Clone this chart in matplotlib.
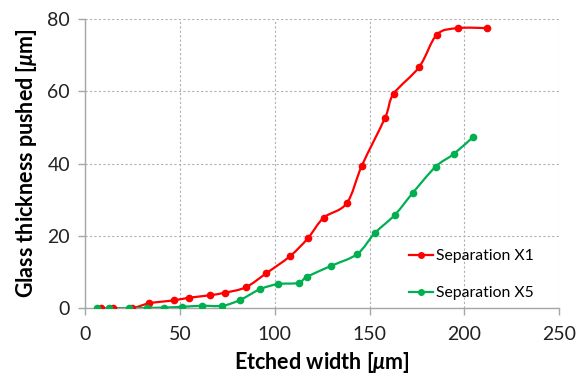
import matplotlib

matplotlib.use("Agg")
import matplotlib.pyplot as plt
from matplotlib.path import Path
from matplotlib.patches import PathPatch
from matplotlib.lines import Line2D
import numpy as np

# 데이터
x1_width = [8.1, 14.8, 24.5, 33.8, 46.8, 54.5, 65.6, 73.5, 84.6, 95.5, 108.0, 117.5,
            125.7, 137.9, 145.9, 158.2, 162.6, 176.2, 185.5, 196.7, 211.9]
x1_push = [0.0, 0.0, 0.0, 1.4, 2.2, 2.9, 3.6, 4.3, 5.8, 9.7, 14.4, 19.4,
           25.0, 29.0, 39.4, 52.7, 59.2, 66.7, 75.6, 77.4, 77.4]

x5_width = [6.3, 12.5, 23.2, 32.4, 41.7, 50.8, 61.5, 72.3, 81.6, 92.3, 101.8, 112.5,
            116.9, 129.6, 143.5, 152.6, 163.3, 172.8, 184.8, 194.3, 204.8]
x5_push = [0.0, 0.0, 0.0, 0.1, 0.2, 0.4, 0.7, 0.7, 2.3, 5.3, 6.7, 7.0,
           8.7, 11.7, 15.0, 20.7, 25.8, 31.9, 39.1, 42.6, 47.4]

series_names = ["Separation X1", "Separation X5"]
series_colors = ["#FF0000", "#00B050"]

FONT = "Lato"
plt.rcParams["font.family"] = [FONT, "DejaVu Sans"]
plt.rcParams["mathtext.fontset"] = "custom"
plt.rcParams["mathtext.it"] = "Lato:italic:bold"
plt.rcParams["mathtext.rm"] = "Lato:bold"


def smooth_path(xs, ys):
    # 엑셀 스타일 부드러운 선 (베지어 곡선)
    pts = np.column_stack([xs, ys])
    n = len(pts)
    verts = [pts[0]]
    codes = [Path.MOVETO]
    for i in range(n - 1):
        p0 = pts[i - 1] if i > 0 else pts[i]
        p1 = pts[i]
        p2 = pts[i + 1]
        p3 = pts[i + 2] if i + 2 < n else pts[i + 1]
        c1 = p1 + (p2 - p0) / 6.0
        c2 = p2 - (p3 - p1) / 6.0
        verts += [c1, c2, p2]
        codes += [Path.CURVE4] * 3
    return Path(verts, codes)


fig = plt.figure(figsize=(5.77, 3.78), dpi=100)
ax = fig.add_axes([0.148, 0.1844, 0.821, 0.7661])

for xs, ys, c in [(x1_width, x1_push, series_colors[0]), (x5_width, x5_push, series_colors[1])]:
    ax.add_patch(PathPatch(smooth_path(xs, ys), fill=False, edgecolor=c, lw=1.6, zorder=3))
    ax.plot(xs, ys, linestyle="none", marker="o", markersize=4.5, color=c, zorder=4)

ax.set_xlim(0, 250)
ax.set_ylim(0, 80)
ax.set_xticks([0, 50, 100, 150, 200, 250])
ax.set_yticks([0, 20, 40, 60, 80])

ax.grid(True, color="#B0B0B0", linestyle=(0, (2, 2)), lw=0.8, zorder=0)
ax.set_axisbelow(True)
for s in ["top", "right"]:
    ax.spines[s].set_visible(False)
for s in ["left", "bottom"]:
    ax.spines[s].set_color("#A6A6A6")
    ax.spines[s].set_linewidth(1.0)
ax.tick_params(axis="both", direction="out", length=5, width=1.0, color="#A6A6A6",
               labelsize=14, labelcolor="#222222")
ax.tick_params(axis="x", pad=8)
ax.tick_params(axis="y", pad=6)

ax.set_xlabel(r"Etched width [$\mathit{\mu}$m]", fontsize=15.5, fontweight="bold", labelpad=5)
ax.set_ylabel(r"Glass thickness pushed [$\mathit{\mu}$m]", fontsize=15.5, fontweight="bold", labelpad=6)

handles = [Line2D([0], [0], color=c, lw=1.6, marker="o", markersize=4) for c in series_colors]
ax.legend(handles, series_names, loc="upper left", bbox_to_anchor=(0.67, 0.225),
          frameon=False, fontsize=11.3, handlelength=1.5, handletextpad=0.2,
          labelspacing=1.45, borderaxespad=0)

fig.savefig("out.png", dpi=100)
plt.close(fig)
